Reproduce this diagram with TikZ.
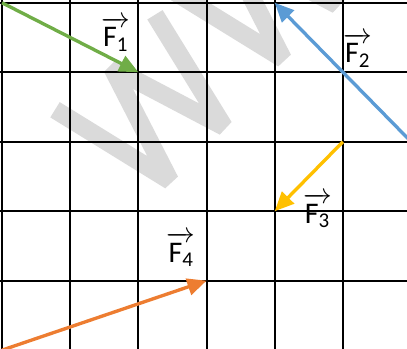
\documentclass[tikz,border=0pt]{standalone}
\usepackage{amsmath}
\usepackage{fontspec}
\setmainfont{Carlito}
\usetikzlibrary{arrows.meta}
\definecolor{fgreen}{RGB}{112,173,71}
\definecolor{fblue}{RGB}{91,155,213}
\definecolor{fyellow}{RGB}{255,192,0}
\definecolor{forange}{RGB}{237,125,49}
\definecolor{wmark}{RGB}{218,218,218}
\newcommand{\vF}[1]{$\overrightarrow{\text{F}_{\text{#1}}}$}

\begin{document}
\begin{tikzpicture}[x=1cm, y=-1.019cm,
    gridline/.style={black, line width=0.8pt},
    vec/.style={line width=1.4pt, -{Triangle[length=8pt, width=7pt]}},
    lab/.style={inner sep=0pt, font=\fontsize{12.5}{14}\selectfont}
]
\useasboundingbox (-0.03,-0.04) rectangle (5.94,4.98);
\clip (-0.03,-0.04) rectangle (5.94,4.98);
% watermark
\foreach \s in {0,1} {
    \draw[wmark, line width=7.5pt, line join=bevel, shift={(1.657*\s,-1.755*\s)}]
        (0.777,1.540) -- (2.463,2.561) -- (1.613,0.935) -- (3.255,1.784) -- (2.243,0.173);
}
% grid
\foreach \i in {0,...,5} {
    \draw[gridline] (\i,-0.04) -- (\i,4.98);
}
\foreach \j in {0,...,4} {
    \draw[gridline] (-0.03,\j) -- (5.94,\j);
}
% vectors
\coordinate (f1s) at (0,0);
\coordinate (f1e) at (2,1);
\coordinate (f2s) at (6,2);
\coordinate (f2e) at (4,0);
\coordinate (f3s) at (5,2);
\coordinate (f3e) at (4,3);
\coordinate (f4s) at (0,5);
\coordinate (f4e) at (3,4);
\draw[vec, fgreen] (f1s) -- (f1e);
\draw[vec, fblue] (f2s) -- (f2e);
\draw[vec, fyellow] (f3s) -- (f3e);
\draw[vec, forange] (f4s) -- (f4e);
\node[lab] (l1) at (1.67,0.45) {\vF{1}};
\node[lab] (l2) at (5.22,0.68) {\vF{2}};
\node[lab] (l3) at (4.63,2.99) {\vF{3}};
\node[lab] (l4) at (2.63,3.55) {\vF{4}};
\end{tikzpicture}
\end{document}
